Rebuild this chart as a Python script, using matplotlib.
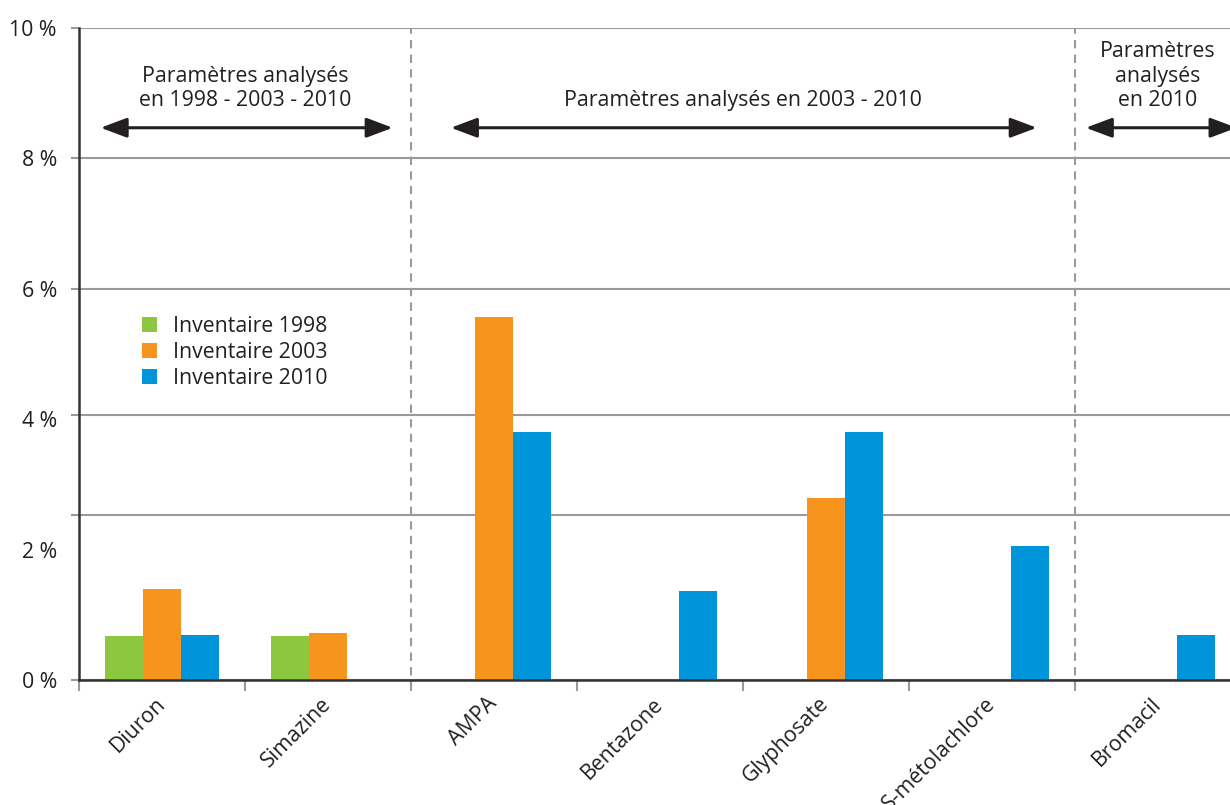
import numpy as np
import matplotlib
matplotlib.use('Agg')
import matplotlib.pyplot as plt

plt.rcParams['font.family'] = ['Open Sans', 'DejaVu Sans']

# données (% de dépassement)
substances = ['Diuron', 'Simazine', 'AMPA', 'Bentazone', 'Glyphosate',
              'S-métolachlore', 'Bromacil']
inv_1998 = [0.68, 0.68, 0, 0, 0, 0, 0]
inv_2003 = [1.40, 0.72, 5.57, 0, 2.79, 0, 0]
inv_2010 = [0.69, 0, 3.80, 1.37, 3.80, 2.06, 0.69]
series_labels = ['Inventaire 1998', 'Inventaire 2003', 'Inventaire 2010']
colors = ['#8DC63F', '#F7941D', '#0095DA']

ytick_vals = [0, 2, 4, 6, 8, 10]
ytick_labels = ['0 %', '2 %', '4 %', '6 %', '8 %', '10 %']
grid_vals = [0, 2.53, 4.07, 6, 8, 10]   # lignes de la grille (décalées dans l'original)

sections = [(-0.5, 1.5, 'Paramètres analysés\nen 1998 - 2003 - 2010'),
            (1.5, 5.5, 'Paramètres analysés en 2003 - 2010'),
            (5.5, 6.5, 'Paramètres\nanalysés\nen 2010')]

txt = '#231F20'
grey = '#9A9A9A'
fs = 15.3
xmax = 6.434

fig = plt.figure(figsize=(12.3, 8.05), dpi=100)
ax = fig.add_axes([79/1230, 125/805, 1151/1230, 652/805])

x = np.arange(len(substances))
w = 0.229
for i, (vals, lab, c) in enumerate(zip([inv_1998, inv_2003, inv_2010], series_labels, colors)):
    ax.bar(x + (i - 1) * w, vals, width=w, color=c, label=lab, zorder=3)

# axes y : étiquettes et grille
ax.set_yticks(ytick_vals)
ax.set_yticklabels(ytick_labels)
ax.set_yticks(grid_vals, minor=True)
ax.yaxis.remove_overlapping_locs = False
ax.tick_params(axis='y', which='major', length=0, pad=16, labelsize=fs, labelcolor=txt)
ax.tick_params(axis='y', which='minor', length=6, width=1.5, color=grey)
ax.yaxis.grid(True, which='minor', color=grey, lw=1.5, zorder=0)

# axe x
ax.set_xticks(x)
ax.set_xticklabels(substances, rotation=45, ha='right', va='center',
                   rotation_mode='anchor')
ax.set_xticks(np.arange(len(substances) + 1) - 0.5, minor=True)
ax.tick_params(axis='x', which='major', length=0, pad=15, labelsize=fs, labelcolor=txt)
ax.tick_params(axis='x', which='minor', length=8, width=1.5, color=grey)

ax.set_xlim(-0.5, xmax)
ax.set_ylim(0, 10)

for s in ['top', 'right']:
    ax.spines[s].set_visible(False)
ax.spines['left'].set_color('#333333')
ax.spines['left'].set_linewidth(1.8)
ax.spines['bottom'].set_color('#333333')
ax.spines['bottom'].set_linewidth(1.8)
ax.spines['bottom'].set_zorder(4)

# séparations et flèches
for a, b, lab in sections:
    if a > -0.5:
        ax.axvline(a, ymin=-0.015, ymax=1, color=grey, lw=1.5, ls=(0, (4, 3)),
                   clip_on=False, zorder=1)
    if a < 0:
        left, right = a + 0.13, b - 0.11
    elif b - a > 2:
        left, right = a + 0.24, b - 0.23
    else:
        left, right = a + 0.065, xmax + 0.04   # flèche coupée au bord comme l'original
    ax.annotate('', xy=(left, 8.47), xytext=(right, 8.47),
                arrowprops=dict(arrowstyle='<|-|>,head_length=0.8,head_width=0.3',
                                lw=2.2, color=txt, shrinkA=0, shrinkB=0,
                                mutation_scale=20),
                annotation_clip=False)
    xc = (a + b) / 2
    ax.text(xc, 8.72, lab, ha='center', va='bottom', fontsize=fs, color=txt,
            linespacing=1.22)

ax.legend(loc='upper left', bbox_to_anchor=(0.038, 0.588), frameon=False,
          fontsize=fs, handlelength=0.7, handleheight=0.7, labelspacing=0.25,
          handletextpad=0.75, labelcolor=txt)

fig.savefig('out.png', dpi=100)
